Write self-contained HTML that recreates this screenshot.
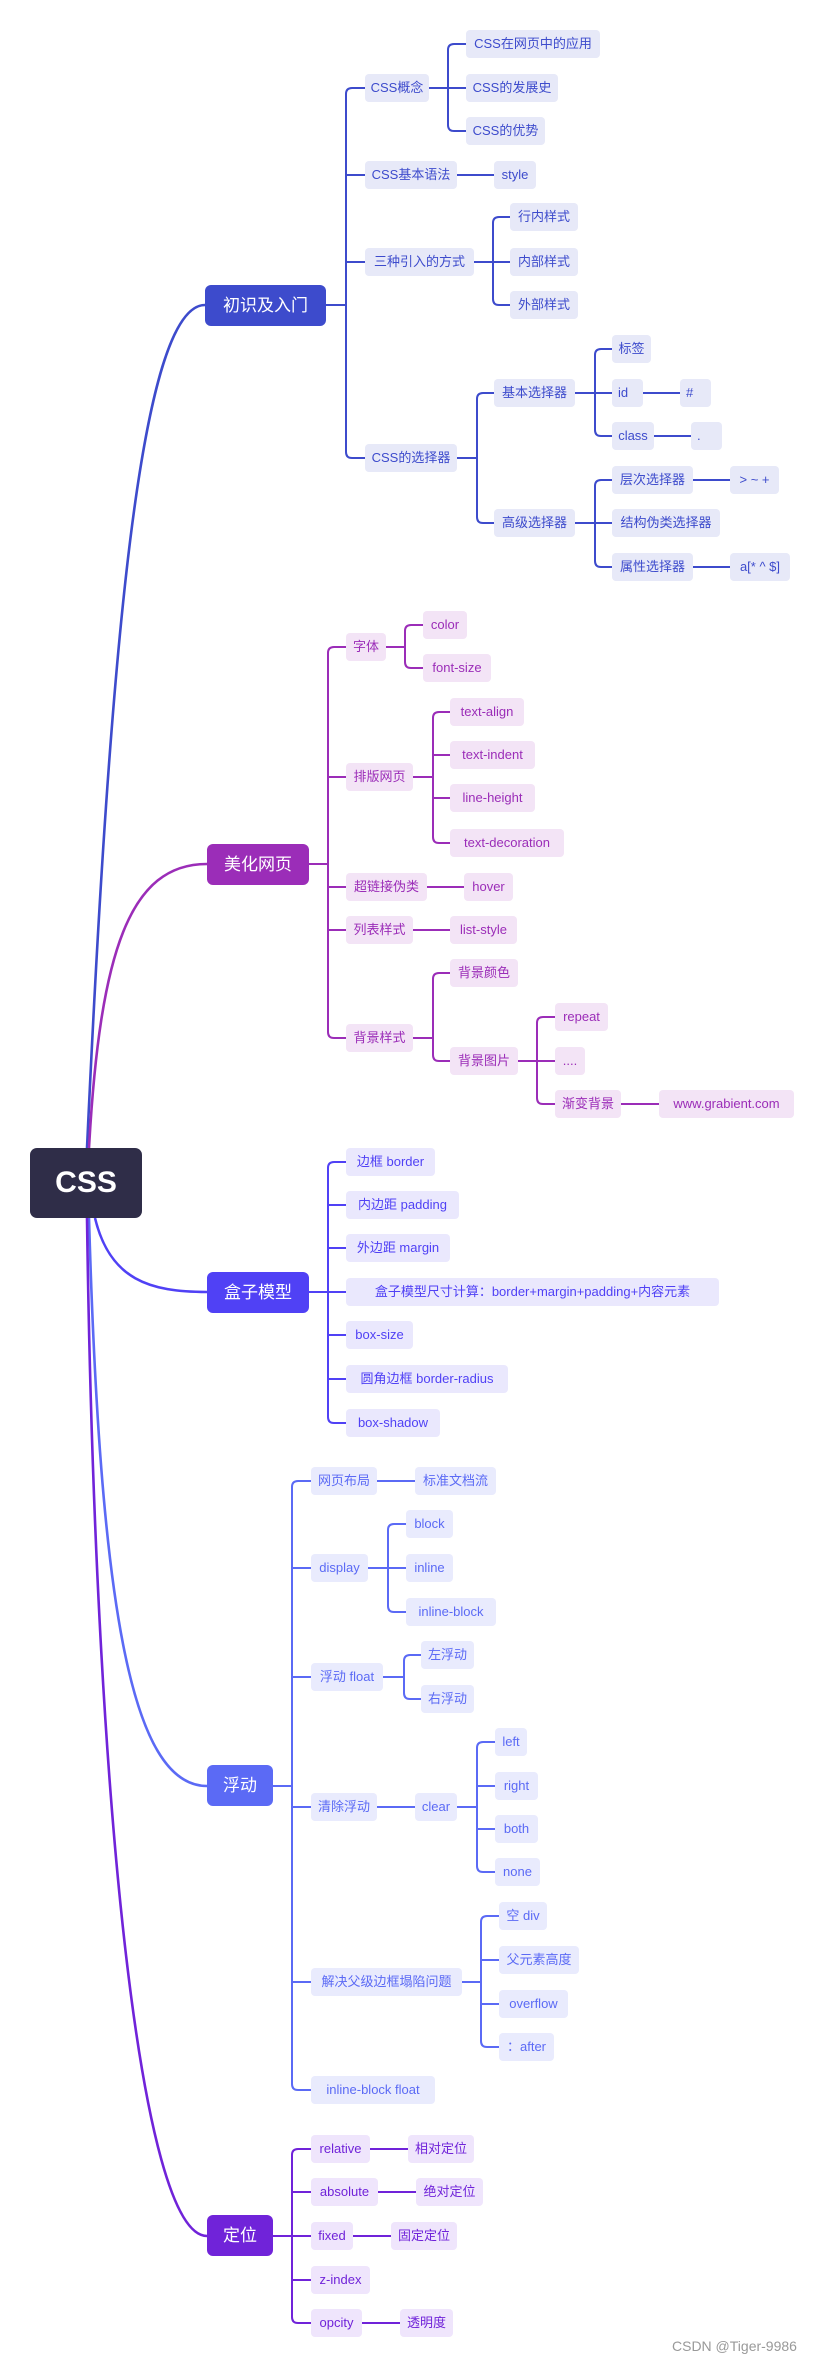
<!DOCTYPE html>
<html><head><meta charset="utf-8"><style>
body{margin:0;background:#fff;width:825px;height:2367px;position:relative;overflow:hidden;font-family:"Liberation Sans","Noto Sans CJK SC",sans-serif}
svg{position:absolute;left:0;top:0}
.n{position:absolute;height:28px;line-height:28px;font-size:13px;border-radius:4px;text-align:center;white-space:nowrap;box-sizing:border-box}
.a{background:#e7e9f8;color:#3d4bcc}
.b{background:#f3e4f6;color:#9b2db8}
.c{background:#eae8fd;color:#5041f5}
.d{background:#e9ebfd;color:#5b6af5}
.e{background:#efe5fc;color:#7023d9}
.L{position:absolute;color:#fff;font-size:17px;border-radius:6px;text-align:center;height:41px;line-height:41px}
</style></head><body>
<svg width="825" height="2367" fill="none" stroke-width="2">
<g stroke-width="2.6">
<path d="M87 1148 C110 650,140 305,205 305" stroke="#3d4bcc"/>
<path d="M89 1148 C100 950,130 864,207 864" stroke="#9b2db8"/>
<path d="M95 1218 C110 1280,150 1292,207 1292" stroke="#5041f5"/>
<path d="M89 1218 C100 1600,130 1786,207 1786" stroke="#5b6af5"/>
<path d="M87 1218 C95 1800,140 2236,207 2236" stroke="#7023d9"/>
</g>
<g stroke="#3d4bcc">
<path d="M326 305H346M365 88H352Q346 88 346 94V452Q346 458 352 458H365M346 175H365M346 262H365"/>
<path d="M429 88H466M466 44H454Q448 44 448 50V125Q448 131 454 131H466"/>
<path d="M457 175H494"/>
<path d="M474 262H510M510 217H499Q493 217 493 223V299Q493 305 499 305H510"/>
<path d="M457 458H477M494 393H483Q477 393 477 399V517Q477 523 483 523H494"/>
<path d="M575 393H612M612 349H601Q595 349 595 355V430Q595 436 601 436H612"/>
<path d="M643 393H680M654 436H691"/>
<path d="M575 523H612M612 480H601Q595 480 595 486V561Q595 567 601 567H612"/>
<path d="M693 480H730M693 567H730"/>
</g>
<g stroke="#9b2db8">
<path d="M308 864H328M346 647H334Q328 647 328 653V1032Q328 1038 334 1038H346M328 777H346M328 887H346M328 930H346"/>
<path d="M386 647H405M423 625H411Q405 625 405 631V662Q405 668 411 668H423"/>
<path d="M413 777H433M450 712H439Q433 712 433 718V837Q433 843 439 843H450M433 755H450M433 798H450"/>
<path d="M427 887H464M413 930H450"/>
<path d="M413 1038H433M450 973H439Q433 973 433 979V1055Q433 1061 439 1061H450"/>
<path d="M518 1061H555M555 1017H543Q537 1017 537 1023V1098Q537 1104 543 1104H555"/>
<path d="M621 1104H659"/>
</g>
<g stroke="#5041f5">
<path d="M309 1292H346M346 1162H334Q328 1162 328 1168V1417Q328 1423 334 1423H346M328 1205H346M328 1248H346M328 1335H346M328 1379H346"/>
</g>
<g stroke="#5b6af5">
<path d="M273 1786H292M311 1481H298Q292 1481 292 1487V2084Q292 2090 298 2090H311M292 1568H311M292 1677H311M292 1807H311M292 1982H311"/>
<path d="M377 1481H415"/>
<path d="M368 1568H406M406 1524H394Q388 1524 388 1530V1606Q388 1612 394 1612H406"/>
<path d="M383 1677H404M421 1655H410Q404 1655 404 1661V1693Q404 1699 410 1699H421"/>
<path d="M377 1807H415M457 1807H477M495 1742H483Q477 1742 477 1748V1866Q477 1872 483 1872H495M477 1786H495M477 1829H495"/>
<path d="M462 1982H481M499 1916H487Q481 1916 481 1922V2041Q481 2047 487 2047H499M481 1960H499M481 2004H499"/>
</g>
<g stroke="#7023d9">
<path d="M273 2236H311M311 2149H298Q292 2149 292 2155V2317Q292 2323 298 2323H311M292 2192H311M292 2280H311"/>
<path d="M370 2149H408M378 2192H416M353 2236H391M362 2323H400"/>
</g>
</svg>

<div style="position:absolute;left:30px;top:1148px;width:112px;height:70px;line-height:70px;background:#2f2d48;color:#fff;font-weight:bold;font-size:30px;text-align:center;border-radius:7px">CSS</div>

<div class="L" style="left:205px;top:285px;width:121px;background:#3d4bcc">初识及入门</div>
<div class="L" style="left:207px;top:844px;width:102px;background:#9b2db8">美化网页</div>
<div class="L" style="left:207px;top:1272px;width:102px;background:#5041f5">盒子模型</div>
<div class="L" style="left:207px;top:1765px;width:66px;background:#5b6af5">浮动</div>
<div class="L" style="left:207px;top:2215px;width:66px;background:#7023d9">定位</div>

<div class="n a" style="left:365px;top:74px;width:64px">CSS概念</div>
<div class="n a" style="left:466px;top:30px;width:134px">CSS在网页中的应用</div>
<div class="n a" style="left:466px;top:74px;width:92px">CSS的发展史</div>
<div class="n a" style="left:466px;top:117px;width:79px">CSS的优势</div>
<div class="n a" style="left:365px;top:161px;width:92px">CSS基本语法</div>
<div class="n a" style="left:494px;top:161px;width:42px">style</div>
<div class="n a" style="left:365px;top:248px;width:109px">三种引入的方式</div>
<div class="n a" style="left:510px;top:203px;width:68px">行内样式</div>
<div class="n a" style="left:510px;top:248px;width:68px">内部样式</div>
<div class="n a" style="left:510px;top:291px;width:68px">外部样式</div>
<div class="n a" style="left:365px;top:444px;width:92px">CSS的选择器</div>
<div class="n a" style="left:494px;top:379px;width:81px">基本选择器</div>
<div class="n a" style="left:612px;top:335px;width:39px">标签</div>
<div class="n a" style="left:612px;top:379px;width:31px;text-align:left;padding-left:6px">id</div>
<div class="n a" style="left:680px;top:379px;width:31px;text-align:left;padding-left:6px">#</div>
<div class="n a" style="left:612px;top:422px;width:42px">class</div>
<div class="n a" style="left:691px;top:422px;width:31px;text-align:left;padding-left:6px">.</div>
<div class="n a" style="left:494px;top:509px;width:81px">高级选择器</div>
<div class="n a" style="left:612px;top:466px;width:81px">层次选择器</div>
<div class="n a" style="left:730px;top:466px;width:49px">&gt; ~ +</div>
<div class="n a" style="left:612px;top:509px;width:108px">结构伪类选择器</div>
<div class="n a" style="left:612px;top:553px;width:81px">属性选择器</div>
<div class="n a" style="left:730px;top:553px;width:60px">a[* ^ $]</div>

<div class="n b" style="left:346px;top:633px;width:40px">字体</div>
<div class="n b" style="left:423px;top:611px;width:44px">color</div>
<div class="n b" style="left:423px;top:654px;width:68px">font-size</div>
<div class="n b" style="left:346px;top:763px;width:67px">排版网页</div>
<div class="n b" style="left:450px;top:698px;width:74px">text-align</div>
<div class="n b" style="left:450px;top:741px;width:85px">text-indent</div>
<div class="n b" style="left:450px;top:784px;width:85px">line-height</div>
<div class="n b" style="left:450px;top:829px;width:114px">text-decoration</div>
<div class="n b" style="left:346px;top:873px;width:81px">超链接伪类</div>
<div class="n b" style="left:464px;top:873px;width:49px">hover</div>
<div class="n b" style="left:346px;top:916px;width:67px">列表样式</div>
<div class="n b" style="left:450px;top:916px;width:67px">list-style</div>
<div class="n b" style="left:346px;top:1024px;width:67px">背景样式</div>
<div class="n b" style="left:450px;top:959px;width:68px">背景颜色</div>
<div class="n b" style="left:450px;top:1047px;width:68px">背景图片</div>
<div class="n b" style="left:555px;top:1003px;width:53px">repeat</div>
<div class="n b" style="left:555px;top:1047px;width:30px">....</div>
<div class="n b" style="left:555px;top:1090px;width:66px">渐变背景</div>
<div class="n b" style="left:659px;top:1090px;width:135px">www.grabient.com</div>

<div class="n c" style="left:346px;top:1148px;width:89px">边框 border</div>
<div class="n c" style="left:346px;top:1191px;width:113px">内边距 padding</div>
<div class="n c" style="left:346px;top:1234px;width:104px">外边距 margin</div>
<div class="n c" style="left:346px;top:1278px;width:373px">盒子模型尺寸计算：border+margin+padding+内容元素</div>
<div class="n c" style="left:346px;top:1321px;width:67px">box-size</div>
<div class="n c" style="left:346px;top:1365px;width:162px">圆角边框 border-radius</div>
<div class="n c" style="left:346px;top:1409px;width:94px">box-shadow</div>

<div class="n d" style="left:311px;top:1467px;width:66px">网页布局</div>
<div class="n d" style="left:415px;top:1467px;width:81px">标准文档流</div>
<div class="n d" style="left:311px;top:1554px;width:57px">display</div>
<div class="n d" style="left:406px;top:1510px;width:47px">block</div>
<div class="n d" style="left:406px;top:1554px;width:47px">inline</div>
<div class="n d" style="left:406px;top:1598px;width:90px">inline-block</div>
<div class="n d" style="left:311px;top:1663px;width:72px">浮动 float</div>
<div class="n d" style="left:421px;top:1641px;width:53px">左浮动</div>
<div class="n d" style="left:421px;top:1685px;width:53px">右浮动</div>
<div class="n d" style="left:311px;top:1793px;width:66px">清除浮动</div>
<div class="n d" style="left:415px;top:1793px;width:42px">clear</div>
<div class="n d" style="left:495px;top:1728px;width:32px">left</div>
<div class="n d" style="left:495px;top:1772px;width:43px">right</div>
<div class="n d" style="left:495px;top:1815px;width:43px">both</div>
<div class="n d" style="left:495px;top:1858px;width:45px">none</div>
<div class="n d" style="left:311px;top:1968px;width:151px">解决父级边框塌陷问题</div>
<div class="n d" style="left:499px;top:1902px;width:48px">空 div</div>
<div class="n d" style="left:499px;top:1946px;width:80px">父元素高度</div>
<div class="n d" style="left:499px;top:1990px;width:69px">overflow</div>
<div class="n d" style="left:499px;top:2033px;width:55px">：after</div>
<div class="n d" style="left:311px;top:2076px;width:124px">inline-block float</div>

<div class="n e" style="left:311px;top:2135px;width:59px">relative</div>
<div class="n e" style="left:408px;top:2135px;width:66px">相对定位</div>
<div class="n e" style="left:311px;top:2178px;width:67px">absolute</div>
<div class="n e" style="left:416px;top:2178px;width:67px">绝对定位</div>
<div class="n e" style="left:311px;top:2222px;width:42px">fixed</div>
<div class="n e" style="left:391px;top:2222px;width:66px">固定定位</div>
<div class="n e" style="left:311px;top:2266px;width:59px">z-index</div>
<div class="n e" style="left:311px;top:2309px;width:51px">opcity</div>
<div class="n e" style="left:400px;top:2309px;width:53px">透明度</div>

<div style="position:absolute;left:672px;top:2338px;font-size:14px;color:#999">CSDN @Tiger-9986</div>
</body></html>
